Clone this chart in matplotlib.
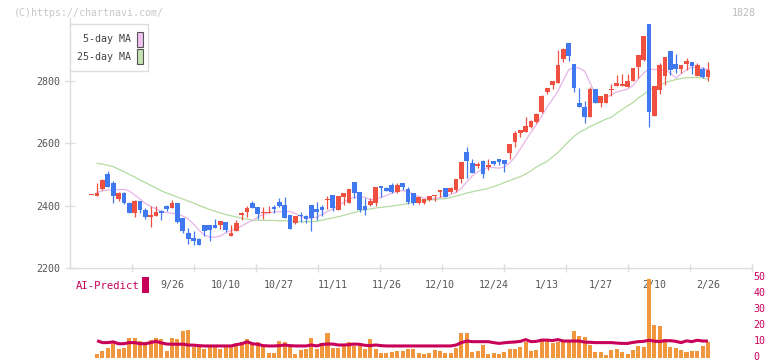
import numpy as np
import matplotlib
matplotlib.use("Agg")
import matplotlib.pyplot as plt
from matplotlib.patches import Rectangle
from matplotlib.transforms import ScaledTranslation

plt.rcParams['font.family'] = ['DejaVu Sans Mono']
plt.rcParams['font.size'] = 7.2

# ---- data (daily candles, code 1828) ----
opens = [2433, 2431, 2453, 2501, 2473, 2422, 2439, 2408, 2377, 2414,
         2386, 2362, 2367, 2381, 2398, 2393, 2407, 2359, 2313, 2294,
         2291, 2337, 2337, 2337, 2337, 2347, 2302, 2319, 2368, 2380,
         2408, 2394, 2375, 2377, 2395, 2412, 2402, 2369, 2345, 2369,
         2366, 2402, 2389, 2396, 2417, 2434, 2385, 2428, 2409, 2475,
         2443, 2398, 2401, 2409, 2463, 2456, 2466, 2444, 2473, 2454,
         2439, 2409, 2409, 2418, 2431, 2443, 2457, 2442, 2450, 2484,
         2572, 2538, 2528, 2543, 2523, 2542, 2548, 2545, 2570, 2604,
         2633, 2637, 2653, 2669, 2702, 2765, 2787, 2795, 2871, 2922,
         2855, 2731, 2716, 2686, 2773, 2730, 2730, 2772, 2785, 2785,
         2780, 2799, 2846, 2867, 2984, 2688, 2772, 2816, 2897, 2855,
         2839, 2855, 2862, 2817, 2839, 2814]
closes = [2433, 2441, 2482, 2460, 2431, 2440, 2407, 2377, 2415, 2385,
          2362, 2369, 2380, 2376, 2390, 2407, 2348, 2319, 2291, 2286,
          2273, 2318, 2321, 2329, 2350, 2321, 2311, 2345, 2376, 2393,
          2393, 2374, 2380, 2380, 2389, 2399, 2361, 2324, 2367, 2366,
          2356, 2359, 2380, 2385, 2420, 2393, 2430, 2439, 2453, 2441,
          2385, 2385, 2414, 2459, 2457, 2448, 2444, 2466, 2460, 2412,
          2409, 2426, 2420, 2430, 2434, 2450, 2428, 2455, 2484, 2540,
          2543, 2505, 2535, 2500, 2530, 2535, 2540, 2532, 2599, 2633,
          2643, 2656, 2673, 2694, 2752, 2778, 2801, 2852, 2902, 2882,
          2779, 2718, 2686, 2773, 2730, 2752, 2758, 2775, 2794, 2791,
          2801, 2841, 2884, 2946, 2702, 2784, 2852, 2877, 2836, 2839,
          2852, 2865, 2847, 2852, 2814, 2836]
highs = [2433, 2473, 2485, 2510, 2478, 2443, 2442, 2411, 2418, 2416,
         2392, 2399, 2397, 2385, 2402, 2418, 2409, 2359, 2329, 2318,
         2294, 2337, 2337, 2356, 2350, 2347, 2337, 2353, 2380, 2399,
         2414, 2394, 2395, 2398, 2402, 2425, 2428, 2369, 2367, 2378,
         2369, 2402, 2411, 2402, 2431, 2434, 2430, 2439, 2453, 2475,
         2443, 2423, 2423, 2459, 2463, 2460, 2473, 2473, 2473, 2458,
         2439, 2426, 2420, 2430, 2434, 2450, 2457, 2460, 2484, 2540,
         2589, 2548, 2539, 2545, 2548, 2543, 2551, 2545, 2599, 2641,
         2643, 2684, 2676, 2697, 2755, 2778, 2801, 2900, 2908, 2922,
         2855, 2777, 2736, 2780, 2775, 2752, 2758, 2790, 2821, 2824,
         2824, 2841, 2884, 2946, 2984, 2784, 2857, 2877, 2897, 2887,
         2852, 2873, 2862, 2857, 2845, 2860]
lows = [2433, 2431, 2450, 2458, 2409, 2415, 2405, 2377, 2362, 2375,
        2357, 2332, 2367, 2353, 2382, 2393, 2343, 2313, 2275, 2273,
        2273, 2302, 2287, 2329, 2324, 2314, 2302, 2319, 2354, 2364,
        2393, 2357, 2357, 2377, 2377, 2394, 2361, 2324, 2340, 2348,
        2344, 2318, 2353, 2367, 2389, 2382, 2385, 2402, 2409, 2423,
        2379, 2370, 2399, 2399, 2428, 2446, 2441, 2441, 2450, 2405,
        2402, 2405, 2405, 2415, 2415, 2426, 2428, 2439, 2444, 2473,
        2489, 2505, 2521, 2489, 2514, 2529, 2529, 2509, 2550, 2589,
        2620, 2637, 2650, 2666, 2696, 2760, 2775, 2795, 2860, 2866,
        2766, 2718, 2664, 2686, 2730, 2716, 2730, 2753, 2785, 2785,
        2780, 2799, 2809, 2865, 2654, 2688, 2757, 2786, 2820, 2826,
        2826, 2837, 2823, 2817, 2809, 2801]

nan = np.nan
ma5 = [nan, 2442, 2447, 2450, 2450, 2451, 2452, 2447, 2434, 2421,
       2406, 2397, 2389, 2381, 2377, 2375, 2373, 2366, 2357, 2340,
       2321, 2305, 2299, 2298, 2302, 2312, 2320, 2326, 2334, 2344,
       2352, 2363, 2371, 2377, 2379, 2380, 2381, 2381, 2374, 2365,
       2360, 2359, 2363, 2371, 2381, 2389, 2398, 2410, 2421, 2426,
       2428, 2426, 2419, 2419, 2426, 2432, 2440, 2445, 2448, 2445,
       2437, 2429, 2424, 2422, 2422, 2426, 2430, 2435, 2442, 2456,
       2476, 2495, 2508, 2516, 2522, 2522, 2520, 2524, 2537, 2556,
       2582, 2610, 2636, 2660, 2688, 2717, 2742, 2768, 2802, 2836,
       2844, 2842, 2832, 2794, 2758, 2742, 2746, 2757, 2765, 2770,
       2774, 2786, 2807, 2826, 2839, 2837, 2837, 2836, 2826, 2810,
       2823, 2837, 2844, 2844, 2842, 2837]
ma25 = [nan, 2536, 2533, 2529, 2525, 2517, 2509, 2500, 2492, 2482,
        2474, 2465, 2456, 2447, 2440, 2434, 2427, 2421, 2414, 2408,
        2400, 2394, 2387, 2382, 2376, 2371, 2367, 2363, 2359, 2356,
        2353, 2353, 2352, 2352, 2352, 2351, 2351, 2350, 2349, 2348,
        2348, 2348, 2349, 2353, 2357, 2360, 2364, 2368, 2373, 2377,
        2383, 2386, 2389, 2392, 2394, 2396, 2398, 2401, 2403, 2406,
        2410, 2413, 2416, 2418, 2419, 2421, 2422, 2426, 2430, 2435,
        2440, 2444, 2448, 2451, 2455, 2461, 2467, 2474, 2480, 2487,
        2493, 2501, 2512, 2524, 2533, 2542, 2556, 2570, 2588, 2606,
        2622, 2635, 2644, 2654, 2662, 2670, 2678, 2684, 2697, 2709,
        2720, 2731, 2746, 2757, 2770, 2778, 2787, 2795, 2800, 2805,
        2808, 2811, 2811, 2812, 2810, 2806]

# lower panel: bars and AI-Predict line (right scale 0-50)
bars = [nan, 2.3, 4.4, 6.1, 10.7, 5.7, 6.1, 12.4, 12.4, 10.7,
        9.9, 11.1, 12.4, 11.6, 4.4, 12.4, 11.8, 16.6, 17.4, 6.9,
        6.5, 5.7, 7.4, 7.4, 5.3, 7.4, 7.6, 9.4, 10.1, 11.8,
        9.4, 10.1, 7.4, 3.1, 3.1, 10.7, 10.1, 6.5, 2.3, 5.0,
        5.5, 12.4, 5.3, 9.4, 15.7, 6.1, 6.1, 7.4, 10.1, 7.4,
        7.4, 5.3, 11.8, 5.3, 3.0, 2.7, 3.3, 4.1, 4.4, 5.3,
        5.7, 3.1, 2.3, 3.0, 4.8, 4.4, 3.0, 3.1, 5.9, 15.7,
        15.7, 3.6, 4.4, 8.0, 2.3, 3.0, 2.5, 3.6, 5.7, 5.7,
        6.7, 10.1, 4.4, 5.0, 10.7, 10.7, 9.5, 10.1, 10.1, 10.1,
        17.0, 13.7, 12.8, 8.2, 3.6, 3.6, 1.7, 5.0, 5.7, 3.6,
        2.3, 5.0, 7.4, 6.7, 49.6, 20.6, 20.0, 11.6, 6.7, 6.1,
        5.0, 3.6, 4.4, 4.4, 7.4, 10.1]
ai_predict = [nan, 10.7, 9.5, 9.5, 10.0, 8.8, 8.8, 9.5, 9.5, 8.8,
              8.8, 9.5, 10.3, 9.3, 8.6, 8.5, 8.5, 8.5, 8.0, 7.9,
              7.6, 7.4, 7.4, 7.4, 7.4, 7.4, 7.4, 8.2, 8.8, 10.0,
              8.8, 8.4, 7.6, 7.4, 7.4, 7.6, 8.0, 7.6, 7.4, 7.4,
              7.4, 8.0, 7.4, 8.4, 8.6, 8.6, 8.0, 8.0, 8.2, 8.6,
              8.4, 7.8, 7.6, 8.0, 7.6, 7.4, 7.4, 7.4, 7.4, 7.4,
              7.4, 7.4, 7.4, 7.4, 7.4, 7.4, 7.4, 7.4, 8.0, 9.5,
              10.5, 10.1, 10.1, 10.1, 10.1, 9.5, 9.0, 9.4, 9.7, 9.9,
              10.3, 11.4, 10.1, 10.3, 11.1, 11.1, 10.8, 11.4, 10.5, 10.5,
              10.5, 10.5, 9.8, 9.7, 9.5, 9.5, 9.5, 9.5, 9.2, 9.0,
              9.0, 9.6, 10.1, 10.3, 11.0, 10.4, 10.2, 10.7, 10.7, 10.3,
              9.5, 10.6, 10.1, 11.0, 10.5, 10.5]

date_labels = ['9/26', '10/10', '10/27', '11/11', '11/26', '12/10',
               '12/24', '1/13', '1/27', '2/10', '2/26']
date_pos = [15, 25, 35, 45, 55, 65, 75, 85, 95, 105, 115]
price_ticks = [2200, 2400, 2600, 2800]
right_ticks = [0, 10, 20, 30, 40, 50]

# colours
RED = '#f05040'
BLUE = '#4078f0'
PINK = '#e8b4e8'
GREEN = '#b4dca0'
CRIMSON = '#c8005a'
ORANGE = '#f0963c'
LIGHT = '#dddddd'
TXT = '#555555'

W, H = 772, 361
fig = plt.figure(figsize=(W / 100, H / 100), dpi=100)

# pixel helpers for axes placement
def box(x0, y0, x1, y1):
    return [x0 / W, 1 - y1 / H, (x1 - x0) / W, (y1 - y0) / H]

XLIM = (-4.0, 123.28)

# ---- main price panel ----
ax = fig.add_axes(box(70.3, 18, 752.3, 267.7))
o = np.array(opens, float)
c = np.array(closes, float)
x = np.arange(len(o))
cols = np.where(c >= o, RED, BLUE)

ax.plot(x, ma25, color=GREEN, lw=0.9, zorder=1)
ax.plot(x, ma5, color=PINK, lw=0.9, zorder=1)
ax.vlines(x, lows, highs, colors=cols, lw=0.9, zorder=2)
ax.bar(x, np.maximum(np.abs(c - o), 2.5), bottom=np.minimum(o, c),
       width=0.88, color=cols, linewidth=0, zorder=3)

ax.set_xlim(*XLIM)
ax.set_ylim(2200, 2200 + (267.7 - 18) * 200 / 62.2)
for s in ['top', 'right']:
    ax.spines[s].set_visible(False)
for s in ['left', 'bottom']:
    ax.spines[s].set_color(LIGHT)
    ax.spines[s].set_linewidth(1.0)

ax.set_yticks(price_ticks)
ax.set_yticklabels([str(v) for v in price_ticks])
ax.tick_params(axis='y', direction='inout', length=6.5, width=1.0,
               color=LIGHT, labelcolor=TXT, pad=4)
ax.set_xticks(date_pos)
ax.set_xticklabels(date_labels)
ax.set_xticks([XLIM[0] + k * (XLIM[1] - XLIM[0]) / 11 for k in range(1, 12)],
              minor=True)
ax.tick_params(axis='x', which='major', length=0, labelcolor=TXT, pad=9)
ax.tick_params(axis='x', which='minor', direction='inout', length=6,
               width=1.0, color=LIGHT)

# ---- lower AI-Predict panel ----
ax2 = fig.add_axes(box(70.3, 278.3, 752.3, 357.7))
ax2.bar(x, bars, width=0.75, color=ORANGE, linewidth=0, zorder=1)
ax2.plot(x, ai_predict, color=CRIMSON, lw=2.2, zorder=2,
         solid_capstyle='butt')
ax2.set_xlim(*XLIM)
ax2.set_ylim(0, 50)
for s in ax2.spines.values():
    s.set_visible(False)
ax2.set_xticks([])
ax2.yaxis.tick_right()
ax2.set_yticks(right_ticks)
ax2.set_yticklabels([str(v) for v in right_ticks])
ax2.tick_params(axis='y', length=0, pad=1, labelcolor=CRIMSON)
ax2.patch.set_alpha(0)
# nudge the right-hand labels up a little so "0" stays inside the picture
lift = ScaledTranslation(0, 2.0 / 100, fig.dpi_scale_trans)
for lbl in ax2.get_yticklabels():
    lbl.set_transform(lbl.get_transform() + lift)

# ---- overlay: header texts, legend, panel caption ----
ov = fig.add_axes([0, 0, 1, 1])
ov.set_xlim(0, W)
ov.set_ylim(H, 0)
ov.axis('off')
ov.patch.set_alpha(0)

ov.text(14, 12.5, '(C)https://chartnavi.com/', color='#c8c8c8',
        ha='left', va='center')
ov.text(756, 12.5, '1828', color='#bbbbbb', ha='right', va='center')

ov.add_patch(Rectangle((70.3, 24), 78, 47, facecolor='white',
                       edgecolor=LIGHT, lw=1.0, zorder=5))
ov.text(131, 38.5, '5-day MA', color='#444444', ha='right', va='center',
        zorder=6)
ov.text(131, 56.5, '25-day MA', color='#444444', ha='right', va='center',
        zorder=6)
ov.add_patch(Rectangle((136.5, 31.5), 6, 15, facecolor='#f0c0f0',
                       edgecolor='#555555', lw=0.8, zorder=6))
ov.add_patch(Rectangle((136.5, 48.5), 6, 15, facecolor='#c4e4b4',
                       edgecolor='#555555', lw=0.8, zorder=6))

ov.text(76, 286, 'AI-Predict', color=CRIMSON, ha='left', va='center',
        fontsize=7.6)
ov.add_patch(Rectangle((142, 277), 7, 16, facecolor=CRIMSON,
                       edgecolor='none'))

fig.savefig('out.png', dpi=100)
